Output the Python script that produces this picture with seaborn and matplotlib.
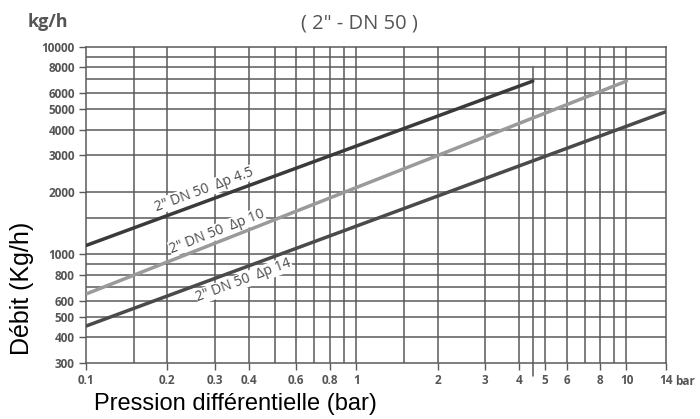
import matplotlib
matplotlib.use("Agg")
import matplotlib.pyplot as plt
import seaborn as sns
import pandas as pd
import numpy as np

# curve end points (pressure bar, flow kg/h), straight in log-log
series = ['2" DN 50  Δp 4.5', '2" DN 50  Δp 10', '2" DN 50  Δp 14']
pressure = [[0.1, 4.5], [0.1, 10], [0.1, 14]]
flow = [[1105, 6850], [645, 6850], [452, 4880]]
colors = ['#3a3a3a', '#9a9a9a', '#4a4a4a']

xticks = [0.1, 0.2, 0.3, 0.4, 0.6, 0.8, 1, 2, 3, 4, 5, 6, 8, 10, 14]
xtick_labels = ['0.1', '0.2', '0.3', '0.4', '0.6', '0.8', '1', '2', '3', '4', '5', '6', '8', '10', '14']
xgrid = [0.15, 0.2, 0.3, 0.4, 0.5, 0.6, 0.7, 0.8, 0.9, 1, 1.5, 2, 3, 4, 5, 6, 7, 8, 9, 10]
yticks = [300, 400, 500, 600, 800, 1000, 2000, 3000, 4000, 5000, 6000, 8000, 10000]
ygrid = [400, 500, 600, 700, 800, 900, 1000, 1500, 2000, 3000, 4000, 5000, 6000, 7000, 8000, 9000]

rows = []
for name, xs, ys in zip(series, pressure, flow):
    for a, b in zip(xs, ys):
        rows.append({'serie': name, 'p': a, 'q': b})
df = pd.DataFrame(rows)

sns.set_theme(style="white")
plt.rcParams['font.family'] = ['Open Sans', 'DejaVu Sans']

fig = plt.figure(figsize=(7, 4.19), dpi=100)
ax = fig.add_axes([0.1229, 0.1337, 0.8285, 0.7541])
ax.set_xscale('log')
ax.set_yscale('log')
ax.set_xlim(0.1, 14)
ax.set_ylim(300, 10000)

gc = '#5a5a5a'
for v in xgrid:
    ax.axvline(v, color=gc, lw=1.1, zorder=1)
for v in ygrid:
    ax.axhline(v, color=gc, lw=1.1, zorder=1)
ax.axvline(4.5, ymin=-0.04, ymax=0.936, color=gc, lw=1.1, zorder=1, clip_on=False)

sns.lineplot(data=df, x='p', y='q', hue='serie', palette=colors, lw=2.5,
             legend=False, ax=ax, zorder=3)

for s in ax.spines.values():
    s.set_color(gc)
    s.set_linewidth(1.1)

ax.set_xticks(xticks)
ax.set_xticklabels(xtick_labels)
ax.set_yticks(yticks)
ax.set_yticklabels([str(v) for v in yticks])
ax.minorticks_off()
ax.tick_params(axis='both', which='major', length=5, width=1, color=gc,
               labelcolor='#555555', labelsize=8.5, direction='out', pad=3)
ax.tick_params(axis='both', left=True, bottom=True)
for t in ax.get_yticklabels() + ax.get_xticklabels():
    t.set_fontweight('bold')

ax.set_xlabel('Pression différentielle (bar)', fontsize=17, color='black',
              family='Liberation Sans')
ax.xaxis.set_label_coords(0.257, -0.095)
ax.set_ylabel('Débit (Kg/h)', fontsize=18, color='black', family='Liberation Sans')
ax.yaxis.set_label_coords(-0.09, 0.237)

fig.text(0.978, 0.1337 - 0.045, 'bar', fontsize=8.5, color='#555555',
         ha='center', va='center', fontweight='bold')
fig.text(0.04, 0.947, 'kg/h', fontsize=13, color='#555555', fontweight='bold',
         ha='left', va='center')
fig.text(0.514, 0.945, '( 2" - DN 50 )', fontsize=14.5, color='#555555',
         ha='center', va='center')

# labels along the curves
lab_pos = [(0.274, 2053), (0.305, 1290), (0.384, 750)]
lab_rot = [20.3, 21.3, 20.5]
for name, (lx, ly), r in zip(series, lab_pos, lab_rot):
    ax.text(lx, ly, name, rotation=r, rotation_mode='anchor', ha='center',
            va='center', fontsize=10, color='#4a4a4a', zorder=4,
            bbox=dict(facecolor='white', edgecolor='none', pad=0.3))

fig.savefig('out.png', dpi=100, facecolor='white')
